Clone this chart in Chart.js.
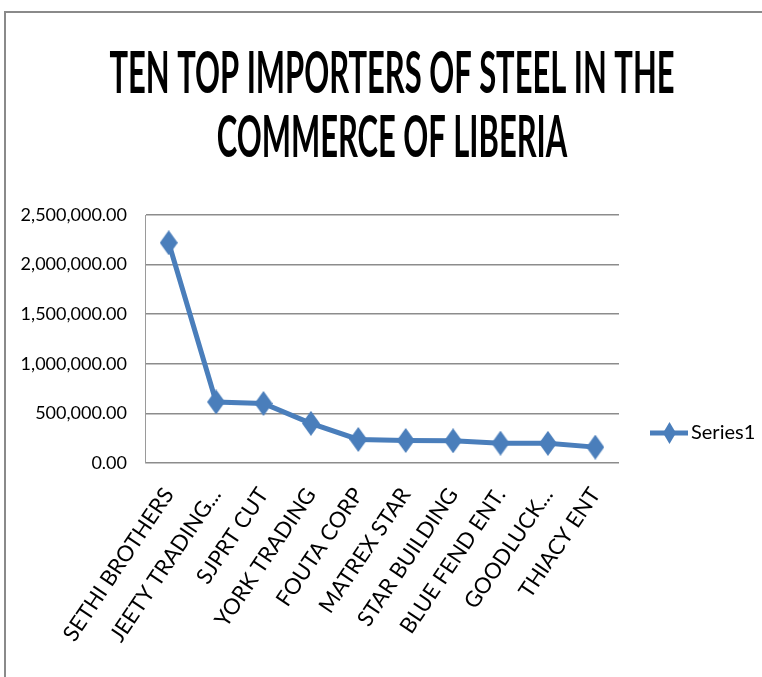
<!DOCTYPE html>
<html>
<head>
<meta charset="utf-8">
<script src="https://cdn.jsdelivr.net/npm/chart.js@4"></script>
<style>
  html, body { margin: 0; padding: 0; width: 762px; height: 677px; overflow: hidden; background: #fff; }
  #frame { position: absolute; left: 4px; top: 11px; width: 800px; height: 700px; border: 2px solid #8a8a8a; }
  #chart { position: absolute; left: 0; top: 0; }
</style>
</head>
<body>
<div id="frame"></div>
<canvas id="chart" width="762" height="677"></canvas>
<script>
// Data
const importers = ['SETHI BROTHERS', 'JEETY TRADING...', 'SJPRT CUT', 'YORK TRADING', 'FOUTA CORP',
  'MATREX STAR', 'STAR BUILDING', 'BLUE FEND ENT.', 'GOODLUCK...', 'THIACY ENT'];
const steelValues = [2220000, 615000, 600000, 400000, 237000, 227000, 224000, 200000, 198000, 160000];
const titleLines = ['TEN TOP IMPORTERS OF STEEL IN THE', 'COMMERCE OF LIBERIA'];
const seriesName = 'Series1';

const lineColor = '#4a7ebb';
const labelFont = 'Lato, "Open Sans", sans-serif';

function formatTick(v) {
  return v.toLocaleString('en-US', { minimumFractionDigits: 2, maximumFractionDigits: 2 });
}

// Marker diamond yang agak tinggi (seperti di gambar)
function makeDiamond(w, h, color) {
  const cv = document.createElement('canvas');
  cv.width = w;
  cv.height = h;
  const g = cv.getContext('2d');
  g.fillStyle = color;
  g.beginPath();
  g.moveTo(w / 2, 0);
  g.lineTo(w, h / 2);
  g.lineTo(w / 2, h);
  g.lineTo(0, h / 2);
  g.closePath();
  g.fill();
  return cv;
}
const diamond = makeDiamond(18, 25, lineColor);

// Titel dua baris, dipadatkan horizontal
const titlePlugin = {
  id: 'squeezedTitle',
  afterDraw(chart) {
    const c = chart.ctx;
    c.save();
    c.font = 'bold 57px ' + labelFont;
    c.fillStyle = '#000';
    c.textAlign = 'center';
    c.textBaseline = 'alphabetic';
    const sx = 565 / c.measureText(titleLines[0]).width;
    const ys = [93, 157];
    titleLines.forEach((line, i) => {
      c.save();
      c.translate(392, ys[i]);
      c.scale(sx, 1);
      c.fillText(line, 0, 0);
      c.restore();
    });
    c.restore();
  }
};

// Legenda kanan (garis + diamond)
const legendPlugin = {
  id: 'sideLegend',
  afterDraw(chart) {
    const c = chart.ctx;
    const ds = chart.data.datasets[0];
    const y = 433;
    c.save();
    c.strokeStyle = ds.borderColor;
    c.lineWidth = 5;
    c.beginPath();
    c.moveTo(650, y);
    c.lineTo(688, y);
    c.stroke();
    c.drawImage(makeDiamond(13, 22, lineColor), 663, y - 11);
    c.fillStyle = '#000';
    c.font = '20px ' + labelFont;
    c.textBaseline = 'middle';
    c.textAlign = 'left';
    c.fillText(ds.label, 691, y);
    c.restore();
  }
};

new Chart(document.getElementById('chart'), {
  type: 'line',
  data: {
    labels: importers,
    datasets: [{
      label: seriesName,
      data: steelValues,
      borderColor: lineColor,
      backgroundColor: lineColor,
      borderWidth: 5,
      pointStyle: diamond,
      pointRadius: 12,
      tension: 0,
    }]
  },
  options: {
    responsive: false,
    animation: false,
    devicePixelRatio: 1,
    layout: { padding: { top: 215, right: 143, left: 0, bottom: 0 } },
    plugins: {
      legend: { display: false },
      title: { display: false },
      tooltip: { enabled: false },
    },
    scales: {
      x: {
        offset: true,
        grid: { display: false, drawTicks: false },
        border: { display: false },
        ticks: {
          autoSkip: false,
          minRotation: 56,
          maxRotation: 56,
          padding: 20,
          color: '#000',
          font: { family: labelFont, size: 22 },
        },
        afterFit(scale) { scale.height = 677 - 463; },
      },
      y: {
        min: 0,
        max: 2500000,
        grid: { color: '#8c8c8c', lineWidth: 1.5, drawTicks: false },
        border: { display: true, color: '#9a9a9a', width: 1 },
        ticks: {
          stepSize: 500000,
          padding: 18,
          color: '#000',
          font: { family: labelFont, size: 18 },
          callback: (v) => formatTick(v),
        },
        afterFit(scale) { scale.width = 145; },
      }
    }
  },
  plugins: [titlePlugin, legendPlugin]
});
</script>
</body>
</html>
